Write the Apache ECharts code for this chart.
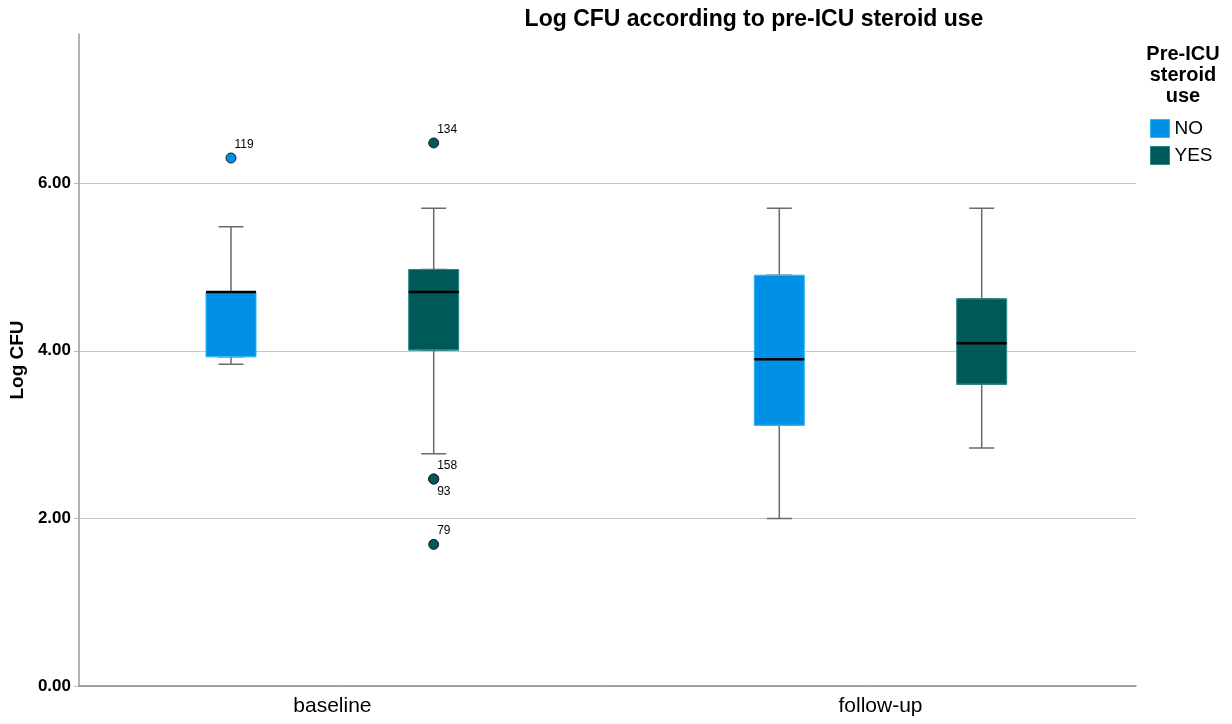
<!DOCTYPE html>
<html><head><meta charset="utf-8">
<script src="https://cdn.jsdelivr.net/npm/echarts@6/dist/echarts.min.js"></script>
<style>html,body{margin:0;padding:0;background:#fff}#c{width:1232px;height:724px}</style>
</head><body><div id="c"></div>
<script>
// ---- data ----
const categories = ['baseline', 'follow-up'];
const yTicks = [0, 2, 4, 6];
// [min, Q1, median, Q3, max]
const noBox = [[3.84, 3.93, 4.70, 4.70, 5.48], [2.00, 3.11, 3.90, 4.90, 5.70]];
const yesBox = [[2.77, 4.01, 4.70, 4.97, 5.70], [2.84, 3.60, 4.09, 4.62, 5.70]];
const noOutlierCat = [0];
const noOutlierVal = [6.30];
const noOutlierId = ['119'];
const noOutlierBelow = [false];
const yesOutlierCat = [0, 0, 0, 0];
const yesOutlierVal = [6.48, 2.47, 2.47, 1.69];
const yesOutlierId = ['134', '158', '93', '79'];
const yesOutlierBelow = [false, false, true, false];

// ---- style ----
const FONT = '"Liberation Sans", Arial, sans-serif';
const NO_COLOR = '#0090E6', NO_EDGE = '#2FB8F8';
const YES_COLOR = '#005959', YES_EDGE = '#2E8686';
const WHISKER = '#6b6b6b';
const YMAX = 7.78, TOP = 34, HEIGHT = 652;

function hiddenX(g) {
  return { gridIndex: g, type: 'category', data: categories, boundaryGap: false, show: false };
}
function hiddenY(g) {
  return { gridIndex: g, type: 'value', min: 0, max: YMAX, show: false, splitLine: { show: false } };
}
function outliers(cats, vals, ids, below) {
  return cats.map((c, i) => ({
    name: ids[i], value: [c, vals[i]],
    label: { position: below[i] ? [9, 12] : [9, -14] }
  }));
}
function groupSeries(name, color, edge, stats, xBase, yIdx, outData) {
  return [
    { type: 'boxplot', name: name + ' whisker', xAxisIndex: xBase, yAxisIndex: yIdx, boxWidth: [25, 25],
      data: stats, silent: true,
      itemStyle: { color: WHISKER, borderColor: WHISKER, borderWidth: 1.5 } },
    { type: 'boxplot', name: name, xAxisIndex: xBase + 1, yAxisIndex: yIdx, boxWidth: [50, 50],
      data: stats.map(b => [b[1], b[1], b[1], b[3], b[3]]), silent: true,
      itemStyle: { color: color, borderColor: edge, borderWidth: 1 } },
    { type: 'boxplot', name: name + ' median', xAxisIndex: xBase + 2, yAxisIndex: yIdx, boxWidth: [50, 50],
      data: stats.map(b => [b[2], b[2], b[2], b[2], b[2]]), silent: true,
      itemStyle: { color: 'rgba(0,0,0,0)', borderColor: '#000', borderWidth: 2.5 } },
    { type: 'scatter', name: name + ' outliers', xAxisIndex: xBase, yAxisIndex: yIdx, symbolSize: 10,
      data: outData, silent: true,
      itemStyle: { color: color, borderColor: '#1e1e1e', borderWidth: 1, opacity: 1 },
      label: { show: true, formatter: '{b}', fontSize: 12, color: '#000', fontFamily: FONT } }
  ];
}

const chart = echarts.init(document.getElementById('c'));
chart.setOption({
  animation: false,
  backgroundColor: '#fff',
  title: [
    { text: 'Log CFU according to pre-ICU steroid use', left: 754, top: 8, textAlign: 'center', padding: 0,
      textStyle: { fontSize: 23, fontWeight: 'bold', color: '#000', fontFamily: FONT } },
    { text: 'Pre-ICU\nsteroid\nuse', left: 1183, top: 44, textAlign: 'center', padding: 0,
      textStyle: { fontSize: 20, lineHeight: 21, fontWeight: 'bold', color: '#000', fontFamily: FONT } }
  ],
  legend: {
    data: [
      { name: 'NO', itemStyle: { color: NO_COLOR, borderColor: NO_EDGE, borderWidth: 1 } },
      { name: 'YES', itemStyle: { color: YES_COLOR, borderColor: YES_EDGE, borderWidth: 1 } }
    ],
    orient: 'vertical', left: 1150, top: 119, padding: 0,
    itemWidth: 19, itemHeight: 18, itemGap: 8, icon: 'rect', selectedMode: false,
    textStyle: { fontSize: 19, color: '#000', fontFamily: FONT }
  },
  grid: [
    { left: 77, top: TOP, width: 1059, height: HEIGHT },
    { left: 332.4, top: TOP, width: 548.1, height: HEIGHT },
    { left: 231, top: TOP, width: 548.3, height: HEIGHT },
    { left: 433.7, top: TOP, width: 548, height: HEIGHT }
  ],
  xAxis: [
    { gridIndex: 0, type: 'value', min: 0, max: 1,
      axisLine: { show: true, onZero: false, lineStyle: { color: '#8a8a8a', width: 1.5 } },
      axisTick: { show: false }, axisLabel: { show: false }, splitLine: { show: false } },
    { gridIndex: 1, type: 'category', data: categories, boundaryGap: false,
      axisLine: { show: false }, axisTick: { show: false },
      axisLabel: { fontSize: 21, color: '#000', margin: 10, fontFamily: FONT } },
    hiddenX(2), hiddenX(2), hiddenX(2),
    hiddenX(3), hiddenX(3), hiddenX(3)
  ],
  yAxis: [
    { gridIndex: 0, type: 'value', min: 0, max: YMAX, interval: 2,
      name: 'Log CFU', nameLocation: 'middle', nameGap: 45,
      nameTextStyle: { fontFamily: FONT, fontWeight: 'bold', fontSize: 19, color: '#000' },
      axisLine: { show: true, lineStyle: { color: '#999', width: 1.5 } },
      axisTick: { show: true, length: 5, customValues: yTicks, lineStyle: { color: '#bbb' } },
      axisLabel: { customValues: yTicks, formatter: v => Number(v).toFixed(2), fontFamily: FONT,
        fontWeight: 'bold', fontSize: 17, color: '#000', margin: 8 },
      splitLine: { show: true, lineStyle: { color: '#c6c6c6', width: 1 } } },
    hiddenY(1), hiddenY(2), hiddenY(3)
  ],
  series: [].concat(
    groupSeries('NO', NO_COLOR, NO_EDGE, noBox, 2, 2, outliers(noOutlierCat, noOutlierVal, noOutlierId, noOutlierBelow)),
    groupSeries('YES', YES_COLOR, YES_EDGE, yesBox, 5, 3, outliers(yesOutlierCat, yesOutlierVal, yesOutlierId, yesOutlierBelow))
  )
});
</script></body></html>
